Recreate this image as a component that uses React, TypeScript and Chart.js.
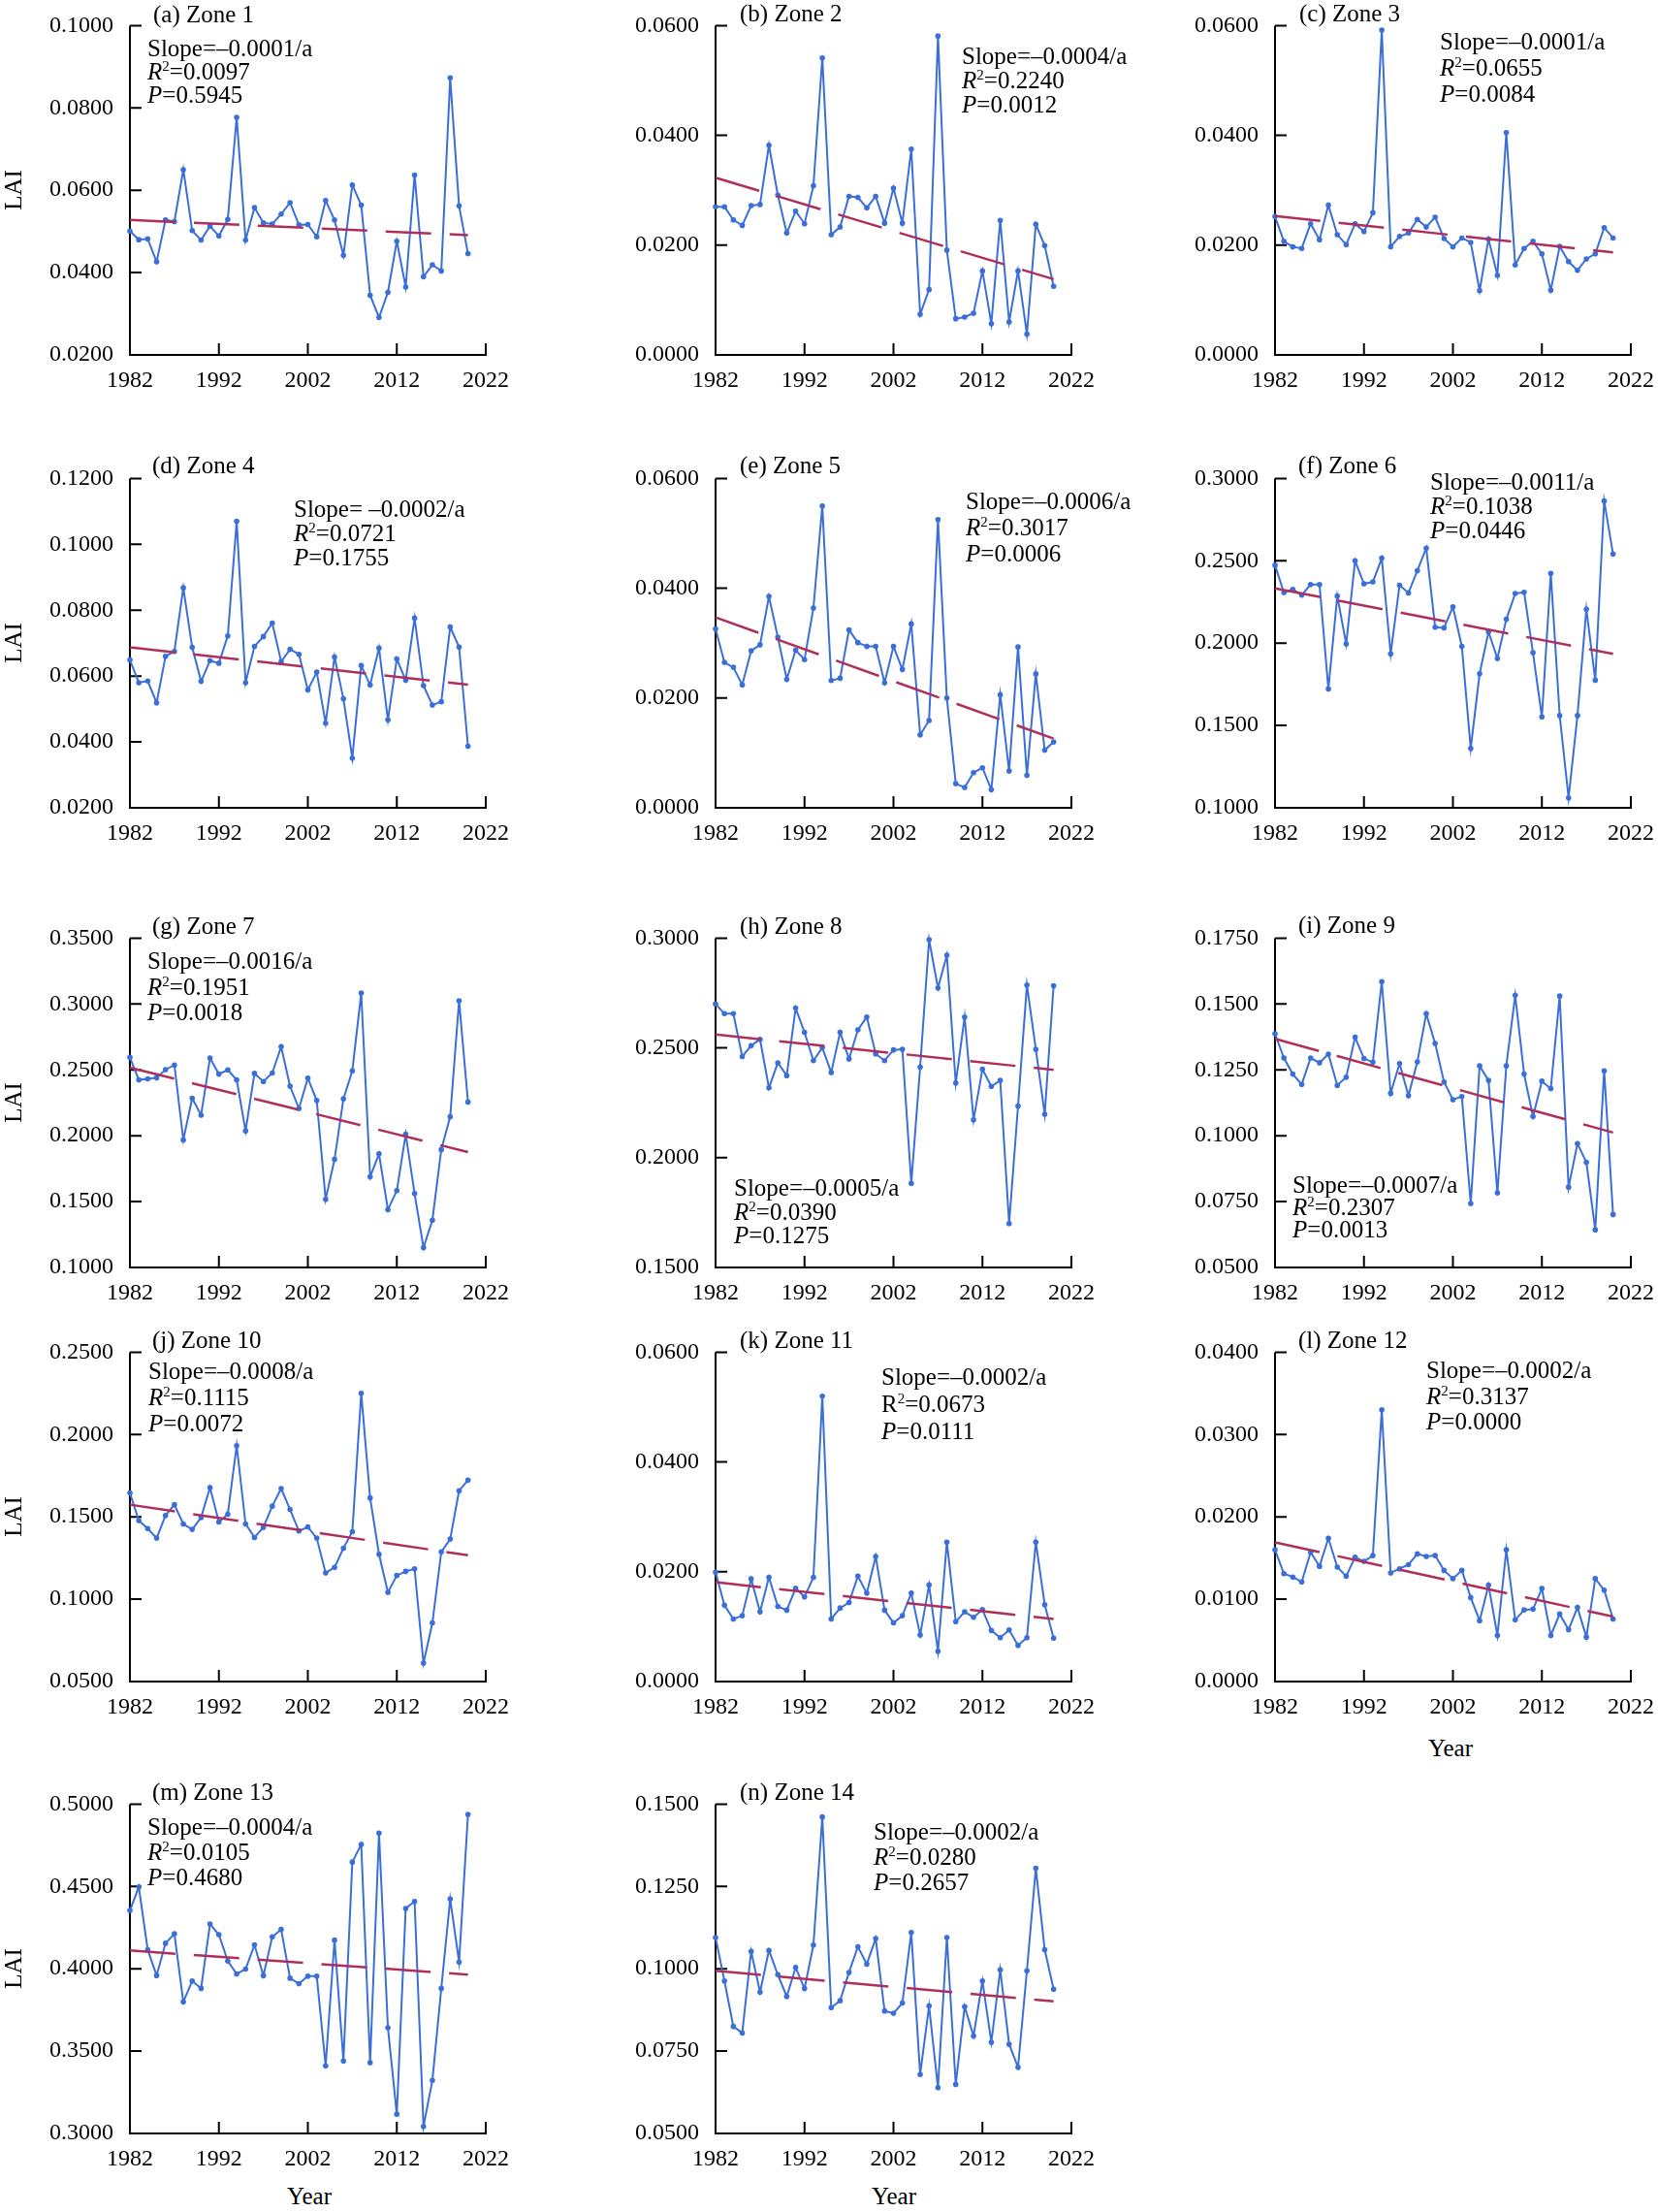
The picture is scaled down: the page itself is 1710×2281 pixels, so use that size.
import React, { useEffect, useRef } from 'react';
import { Chart, registerables } from 'chart.js';

Chart.register(...registerables);

// ---------------- data ----------------
const years = [
  1982, 1983, 1984, 1985, 1986, 1987, 1988, 1989, 1990, 1991,
  1992, 1993, 1994, 1995, 1996, 1997, 1998, 1999, 2000, 2001,
  2002, 2003, 2004, 2005, 2006, 2007, 2008, 2009, 2010, 2011,
  2012, 2013, 2014, 2015, 2016, 2017, 2018, 2019, 2020,
];
const xTicks = [1982, 1992, 2002, 2012, 2022];

const zone1 = [0.0501, 0.0480, 0.0482, 0.0426, 0.0528, 0.0524, 0.0650, 0.0502, 0.0479, 0.0513, 0.0489, 0.0529, 0.0777, 0.0479, 0.0558, 0.0521, 0.0518, 0.0542, 0.0570, 0.0516, 0.0517, 0.0487, 0.0575, 0.0528, 0.0442, 0.0613, 0.0564, 0.0345, 0.0291, 0.0352, 0.0476, 0.0365, 0.0637, 0.0390, 0.0419, 0.0404, 0.0873, 0.0562, 0.0446];
const zone2 = [0.0270, 0.0270, 0.0246, 0.0236, 0.0272, 0.0274, 0.0382, 0.0291, 0.0222, 0.0262, 0.0239, 0.0308, 0.0541, 0.0219, 0.0233, 0.0289, 0.0287, 0.0268, 0.0289, 0.0240, 0.0304, 0.0240, 0.0375, 0.0074, 0.0119, 0.0581, 0.0191, 0.0066, 0.0069, 0.0076, 0.0153, 0.0057, 0.0245, 0.0060, 0.0153, 0.0038, 0.0238, 0.0199, 0.0125];
const zone3 = [0.0252, 0.0207, 0.0197, 0.0194, 0.0239, 0.0210, 0.0273, 0.0219, 0.0201, 0.0239, 0.0225, 0.0259, 0.0592, 0.0197, 0.0216, 0.0222, 0.0247, 0.0233, 0.0251, 0.0212, 0.0197, 0.0213, 0.0205, 0.0117, 0.0211, 0.0145, 0.0405, 0.0164, 0.0194, 0.0207, 0.0184, 0.0118, 0.0198, 0.0170, 0.0154, 0.0175, 0.0184, 0.0232, 0.0213];
const zone4 = [0.0649, 0.0580, 0.0585, 0.0519, 0.0660, 0.0675, 0.0868, 0.0687, 0.0584, 0.0647, 0.0639, 0.0722, 0.1070, 0.0580, 0.0690, 0.0720, 0.0761, 0.0644, 0.0681, 0.0666, 0.0558, 0.0612, 0.0457, 0.0658, 0.0531, 0.0351, 0.0632, 0.0573, 0.0685, 0.0467, 0.0652, 0.0587, 0.0776, 0.0571, 0.0512, 0.0522, 0.0749, 0.0688, 0.0387];
const zone5 = [0.0326, 0.0265, 0.0256, 0.0224, 0.0286, 0.0297, 0.0385, 0.0311, 0.0234, 0.0287, 0.0270, 0.0364, 0.0550, 0.0232, 0.0236, 0.0324, 0.0301, 0.0294, 0.0294, 0.0228, 0.0294, 0.0252, 0.0335, 0.0133, 0.0159, 0.0525, 0.0200, 0.0044, 0.0037, 0.0064, 0.0073, 0.0033, 0.0206, 0.0067, 0.0293, 0.0059, 0.0244, 0.0105, 0.0120];
const zone6 = [0.2473, 0.2307, 0.2327, 0.2292, 0.2356, 0.2356, 0.1722, 0.2286, 0.1995, 0.2500, 0.2360, 0.2372, 0.2516, 0.1935, 0.2352, 0.2305, 0.2440, 0.2577, 0.2097, 0.2093, 0.2220, 0.1981, 0.1361, 0.1814, 0.2069, 0.1907, 0.2145, 0.2301, 0.2309, 0.1942, 0.1552, 0.2424, 0.1560, 0.1060, 0.1560, 0.2206, 0.1775, 0.2863, 0.2541];
const zone7 = [0.2595, 0.2424, 0.2432, 0.2440, 0.2502, 0.2537, 0.1968, 0.2285, 0.2156, 0.2590, 0.2468, 0.2500, 0.2424, 0.2037, 0.2473, 0.2412, 0.2476, 0.2676, 0.2376, 0.2207, 0.2437, 0.2268, 0.1517, 0.1820, 0.2280, 0.2493, 0.3083, 0.1688, 0.1863, 0.1439, 0.1583, 0.2012, 0.1561, 0.1151, 0.1359, 0.1895, 0.2144, 0.3024, 0.2256];
const zone8 = [0.2700, 0.2656, 0.2656, 0.2461, 0.2510, 0.2539, 0.2318, 0.2432, 0.2374, 0.2681, 0.2571, 0.2442, 0.2501, 0.2388, 0.2571, 0.2450, 0.2582, 0.2641, 0.2473, 0.2442, 0.2491, 0.2494, 0.1883, 0.2413, 0.2993, 0.2773, 0.2922, 0.2340, 0.2641, 0.2172, 0.2403, 0.2325, 0.2352, 0.1700, 0.2235, 0.2786, 0.2494, 0.2198, 0.2783];
const zone9 = [0.1387, 0.1295, 0.1234, 0.1195, 0.1295, 0.1277, 0.1310, 0.1191, 0.1222, 0.1374, 0.1293, 0.1279, 0.1585, 0.1161, 0.1274, 0.1152, 0.1280, 0.1463, 0.1350, 0.1204, 0.1137, 0.1149, 0.0743, 0.1265, 0.1210, 0.0783, 0.1265, 0.1533, 0.1234, 0.1073, 0.1207, 0.1179, 0.1530, 0.0805, 0.0970, 0.0899, 0.0643, 0.1246, 0.0701];
const zone10 = [0.1645, 0.1478, 0.1429, 0.1371, 0.1508, 0.1574, 0.1457, 0.1424, 0.1496, 0.1678, 0.1469, 0.1516, 0.1933, 0.1457, 0.1375, 0.1437, 0.1565, 0.1672, 0.1545, 0.1414, 0.1439, 0.1371, 0.1160, 0.1193, 0.1310, 0.1410, 0.2251, 0.1615, 0.1273, 0.1042, 0.1144, 0.1169, 0.1185, 0.0612, 0.0856, 0.1287, 0.1365, 0.1659, 0.1723];
const zone11 = [0.0199, 0.0139, 0.0114, 0.0120, 0.0187, 0.0127, 0.0190, 0.0137, 0.0130, 0.0170, 0.0154, 0.0190, 0.0520, 0.0114, 0.0134, 0.0144, 0.0192, 0.0161, 0.0228, 0.0130, 0.0107, 0.0120, 0.0161, 0.0085, 0.0176, 0.0055, 0.0254, 0.0109, 0.0127, 0.0117, 0.0131, 0.0093, 0.0080, 0.0094, 0.0066, 0.0080, 0.0254, 0.0140, 0.0079];
const zone12 = [0.0160, 0.0131, 0.0127, 0.0121, 0.0157, 0.0140, 0.0174, 0.0139, 0.0128, 0.0151, 0.0146, 0.0153, 0.0330, 0.0132, 0.0137, 0.0142, 0.0155, 0.0152, 0.0153, 0.0135, 0.0125, 0.0135, 0.0102, 0.0074, 0.0117, 0.0056, 0.0160, 0.0075, 0.0087, 0.0088, 0.0113, 0.0056, 0.0082, 0.0063, 0.0090, 0.0054, 0.0125, 0.0111, 0.0076];
const zone13 = [0.4354, 0.4497, 0.4115, 0.3959, 0.4155, 0.4213, 0.3799, 0.3926, 0.3881, 0.4272, 0.4207, 0.4047, 0.3969, 0.3998, 0.4145, 0.3959, 0.4194, 0.4239, 0.3943, 0.3910, 0.3955, 0.3955, 0.3411, 0.4174, 0.3440, 0.4648, 0.4755, 0.3430, 0.4824, 0.3642, 0.3117, 0.4366, 0.4409, 0.3043, 0.3322, 0.3881, 0.4423, 0.4041, 0.4937];
const zone14 = [0.1095, 0.0963, 0.0825, 0.0805, 0.1053, 0.0929, 0.1056, 0.0982, 0.0916, 0.1004, 0.0940, 0.1072, 0.1461, 0.0882, 0.0903, 0.0989, 0.1067, 0.1014, 0.1092, 0.0872, 0.0865, 0.0896, 0.1110, 0.0679, 0.0887, 0.0639, 0.1095, 0.0649, 0.0885, 0.0796, 0.0963, 0.0777, 0.0997, 0.0771, 0.0701, 0.0994, 0.1305, 0.1058, 0.0938];

// trend line values at 1982 and at 2020
const trendStart = [0.0528, 0.0323, 0.0253, 0.0687, 0.0347, 0.2333, 0.2517, 0.2561, 0.1368, 0.1574, 0.0181, 0.0169, 0.4111, 0.0994];
const trendEnd = [0.0491, 0.0138, 0.0187, 0.0574, 0.0126, 0.1935, 0.1876, 0.2400, 0.1012, 0.1267, 0.0114, 0.0079, 0.3965, 0.0901];

// y axis ranges / ticks
const yMin = [0.02, 0, 0, 0.02, 0, 0.1, 0.1, 0.15, 0.05, 0.05, 0, 0, 0.3, 0.05];
const yMax = [0.1, 0.06, 0.06, 0.12, 0.06, 0.3, 0.35, 0.3, 0.175, 0.25, 0.06, 0.04, 0.5, 0.15];
const yStep = [0.02, 0.02, 0.02, 0.02, 0.02, 0.05, 0.05, 0.05, 0.025, 0.05, 0.02, 0.01, 0.05, 0.025];

// text
const titles = ['(a) Zone 1', '(b) Zone 2', '(c) Zone 3', '(d) Zone 4', '(e) Zone 5', '(f) Zone 6', '(g) Zone 7', '(h) Zone 8', '(i) Zone 9', '(j) Zone 10', '(k) Zone 11', '(l) Zone 12', '(m) Zone 13', '(n) Zone 14'];
const slopes = ['Slope=\u20130.0001/a', 'Slope=\u20130.0004/a', 'Slope=\u20130.0001/a', 'Slope= \u20130.0002/a', 'Slope=\u20130.0006/a', 'Slope=\u20130.0011/a', 'Slope=\u20130.0016/a', 'Slope=\u20130.0005/a', 'Slope=\u20130.0007/a', 'Slope=\u20130.0008/a', 'Slope=\u20130.0002/a', 'Slope=\u20130.0002/a', 'Slope=\u20130.0004/a', 'Slope=\u20130.0002/a'];
const r2Values = ['0.0097', '0.2240', '0.0655', '0.0721', '0.3017', '0.1038', '0.1951', '0.0390', '0.2307', '0.1115', '0.0673', '0.3137', '0.0105', '0.0280'];
const pValues = ['0.5945', '0.0012', '0.0084', '0.1755', '0.0006', '0.0446', '0.0018', '0.1275', '0.0013', '0.0072', '0.0111', '0.0000', '0.4680', '0.2657'];
const allZones = [zone1, zone2, zone3, zone4, zone5, zone6, zone7, zone8, zone9, zone10, zone11, zone12, zone13, zone14];

// ---------------- layout ----------------
const colLeft = [134, 738, 1315];
const rowTop = [25, 492, 966, 1393, 1859];
const PW = 367;
const PH = 341;
// annotation block [left, first line centre y, line gap], title [left, centre y]
const statPos = [
  [152, 50, 24], [992, 58, 25], [1485, 43, 27],
  [303, 525, 25], [996, 517, 27], [1475, 497, 25],
  [152, 991, 26.5], [757, 1225, 24.5], [1333, 1222, 23],
  [153, 1414, 27], [909, 1420, 28], [1471, 1413, 26.5],
  [152, 1884, 26], [901, 1889, 26],
];
const titlePos = [
  [158, 15], [763, 14], [1340, 14],
  [157, 480], [763, 480], [1339, 480],
  [157, 955], [763, 955], [1339, 954],
  [157, 1382], [763, 1382], [1339, 1382],
  [157, 1848], [763, 1848],
];
const yearLabels = [[1496, 1803], [319, 2265], [922, 2265]];

const FONT = '"Liberation Serif", "Times New Roman", Times, serif';
const BLUE = '#3b6fd8';
const RED = '#ad2f5a';

const PAD_L = 130;
const PAD_T = 30;
const PAD_R = 40;
const PAD_B = 50;

const innerAxes = {
  id: 'innerAxes',
  beforeDatasetsDraw(chart: any) {
    const { ctx, chartArea } = chart;
    const { left, right, top, bottom } = chartArea;
    ctx.save();
    ctx.strokeStyle = '#000';
    ctx.lineWidth = 2;
    ctx.beginPath();
    ctx.moveTo(left, top);
    ctx.lineTo(left, bottom);
    ctx.lineTo(right + 1, bottom);
    const ys = chart.scales.y;
    ys.ticks.forEach((t: any) => {
      const y = ys.getPixelForValue(t.value);
      ctx.moveTo(left, y);
      ctx.lineTo(left + 12, y);
    });
    const xs = chart.scales.x;
    xs.ticks.forEach((t: any) => {
      const x = xs.getPixelForValue(t.value);
      ctx.moveTo(x, bottom);
      ctx.lineTo(x, bottom - 12);
    });
    ctx.stroke();
    ctx.restore();
  },
};

function Panel({ idx }: { idx: number }) {
  const ref = useRef<HTMLCanvasElement | null>(null);
  const col = idx % 3;
  const row = Math.floor(idx / 3);
  const left = colLeft[col];
  const top = rowTop[row];
  useEffect(() => {
    if (!ref.current) return;
    const values = allZones[idx];
    const chart = new Chart(ref.current, {
      type: 'line',
      data: {
        datasets: [
          {
            data: years.map((y, i) => ({ x: y, y: values[i] })),
            borderColor: BLUE,
            backgroundColor: BLUE,
            borderWidth: 2,
            pointRadius: 2.8,
            pointBorderWidth: 0,
            pointBackgroundColor: BLUE,
            tension: 0,
            clip: false as any,
            order: 1,
          },
          {
            data: [
              { x: years[0], y: trendStart[idx] },
              { x: years[years.length - 1], y: trendEnd[idx] },
            ],
            borderColor: RED,
            borderWidth: 2.5,
            borderDash: [47, 19],
            pointRadius: 0,
            tension: 0,
            clip: false as any,
            order: 0,
          },
        ],
      },
      options: {
        animation: false,
        responsive: false,
        devicePixelRatio: 1,
        layout: { padding: { left: 0, top: PAD_T, right: PAD_R, bottom: 0 } },
        plugins: { legend: { display: false }, tooltip: { enabled: false } },
        scales: {
          x: {
            type: 'linear',
            min: xTicks[0],
            max: xTicks[xTicks.length - 1],
            afterBuildTicks: (axis: any) => {
              axis.ticks = xTicks.map((v) => ({ value: v }));
            },
            afterFit: (axis: any) => {
              axis.height = PAD_B;
            },
            grid: { display: false, drawTicks: false, tickLength: 0 },
            border: { display: false },
            ticks: {
              autoSkip: false,
              maxRotation: 0,
              padding: 12,
              color: '#000',
              font: { family: FONT, size: 24 },
              callback: (v: any) => String(v),
            },
          },
          y: {
            type: 'linear',
            min: yMin[idx],
            max: yMax[idx],
            afterFit: (axis: any) => {
              axis.width = PAD_L;
            },
            grid: { display: false, drawTicks: false, tickLength: 0 },
            border: { display: false },
            ticks: {
              stepSize: yStep[idx],
              autoSkip: false,
              padding: 17,
              color: '#000',
              font: { family: FONT, size: 24 },
              callback: (v: any) => Number(v).toFixed(4),
            },
          },
        },
      } as any,
      plugins: [innerAxes],
    });
    return () => chart.destroy();
  }, [idx]);

  const [sx, sy, gap] = statPos[idx];
  const [tx, ty] = titlePos[idx];
  const italicR = idx !== 10;
  const lineH = 26;
  return (
    <>
      <canvas
        ref={ref}
        width={PAD_L + PW + PAD_R}
        height={PAD_T + PH + PAD_B}
        style={{
          position: 'absolute',
          left: left - PAD_L,
          top: top - PAD_T,
          width: PAD_L + PW + PAD_R,
          height: PAD_T + PH + PAD_B,
        }}
      />
      <div style={{ position: 'absolute', left: tx, top: ty - 13, fontSize: 25, lineHeight: `${lineH}px`, whiteSpace: 'nowrap' }}>
        {titles[idx]}
      </div>
      <div style={{ position: 'absolute', left: sx, top: sy - 13, fontSize: 25, lineHeight: `${lineH}px`, whiteSpace: 'nowrap' }}>
        {slopes[idx]}
      </div>
      <div style={{ position: 'absolute', left: sx, top: sy + gap - 13, fontSize: 25, lineHeight: `${lineH}px`, whiteSpace: 'nowrap' }}>
        {italicR ? <i>R</i> : <span>R</span>}
        <span style={{ fontSize: 15, position: 'relative', top: -9 }}>2</span>=
        {r2Values[idx]}
      </div>
      <div style={{ position: 'absolute', left: sx, top: sy + 2 * gap - 13, fontSize: 25, lineHeight: `${lineH}px`, whiteSpace: 'nowrap' }}>
        <i>P</i>={pValues[idx]}
      </div>
      {col === 0 && (
        <div
          style={{
            position: 'absolute',
            left: 14 - 30,
            top: top + PH / 2 - 13,
            width: 60,
            textAlign: 'center',
            fontSize: 25,
            lineHeight: '26px',
            transform: 'rotate(-90deg)',
          }}
        >
          LAI
        </div>
      )}
    </>
  );
}

export default function App() {
  useEffect(() => {
    document.body.style.margin = '0';
  }, []);
  return (
    <div
      style={{
        position: 'absolute',
        left: 0,
        top: 0,
        width: 1710,
        height: 2281,
        background: '#fff',
        fontFamily: FONT,
        color: '#000',
        overflow: 'hidden',
      }}
    >
      {allZones.map((_, i) => (
        <Panel key={i} idx={i} />
      ))}
      {yearLabels.map(([x, y], i) => (
        <div
          key={'yr' + i}
          style={{ position: 'absolute', left: x - 50, top: y - 13, width: 100, textAlign: 'center', fontSize: 25, lineHeight: '26px' }}
        >
          Year
        </div>
      ))}
    </div>
  );
}
